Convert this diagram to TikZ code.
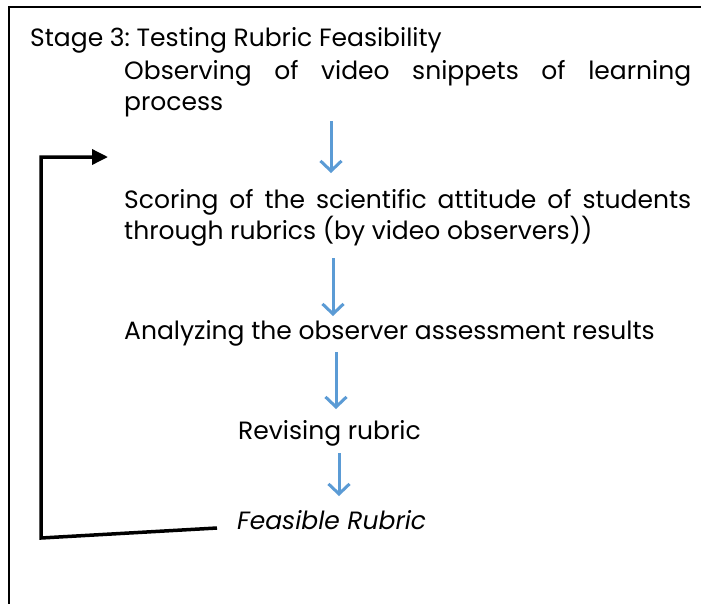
\documentclass[tikz,border=0pt]{standalone}
\usepackage{fontspec}
\setmainfont{Poppins}
\usetikzlibrary{arrows.meta}
\definecolor{arrowblue}{HTML}{5B9BD5}
\frenchspacing
\begin{document}
\begin{tikzpicture}[x=1pt,y=-1pt,
  txt/.style={anchor=base west, inner sep=0pt, font=\fontsize{25}{31}\selectfont},
  flow/.style={draw=arrowblue, line width=3pt, -{Straight Barb[length=10pt,width=21pt,line width=3pt]}},
  loopback/.style={draw=black, line width=3.5pt, line join=miter, -{Triangle[length=16pt,width=15pt]}},
  framestyle/.style={draw=black, line width=2pt}]
\useasboundingbox (0,0) rectangle (701,603);
\fill[white] (0,0) rectangle (701,603);
\draw[framestyle] (9,605) -- (9,7) -- (703,7);
\node[txt] (title) at (30,46) {Stage 3: Testing Rubric Feasibility};
\node[txt] (obs1) at (124,79) {\makebox[567pt][s]{Observing of video snippets of learning}};
\node[txt] (obs2) at (124,110) {process};
\node[txt] (sc1) at (124,208) {\makebox[567pt][s]{Scoring of the scientific attitude of students}};
\node[txt] (sc2) at (124,239) {through rubrics (by video observers))};
\node[txt] (ana) at (124,339) {Analyzing the observer assessment results};
\node[txt] (rev) at (238,439) {Revising rubric};
\node[txt] (fea) at (237,529) {\itshape Feasible Rubric};
\coordinate (a1s) at (331,121); \coordinate (a1e) at (331,173);
\coordinate (a2s) at (333,258); \coordinate (a2e) at (333,316);
\coordinate (a3s) at (336,352); \coordinate (a3e) at (336,409);
\coordinate (a4s) at (339,453); \coordinate (a4e) at (339,496);
\draw[flow] (a1s) -- (a1e);
\draw[flow] (a2s) -- (a2e);
\draw[flow] (a3s) -- (a3e);
\draw[flow] (a4s) -- (a4e);
\coordinate (fbstart) at (217,528);
\coordinate (fbcorner) at (41,538);
\coordinate (fbtop) at (41,157);
\coordinate (fbtip) at (108,157);
\draw[loopback] (fbstart) -- (fbcorner) -- (fbtop) -- (fbtip);
\end{tikzpicture}
\end{document}
